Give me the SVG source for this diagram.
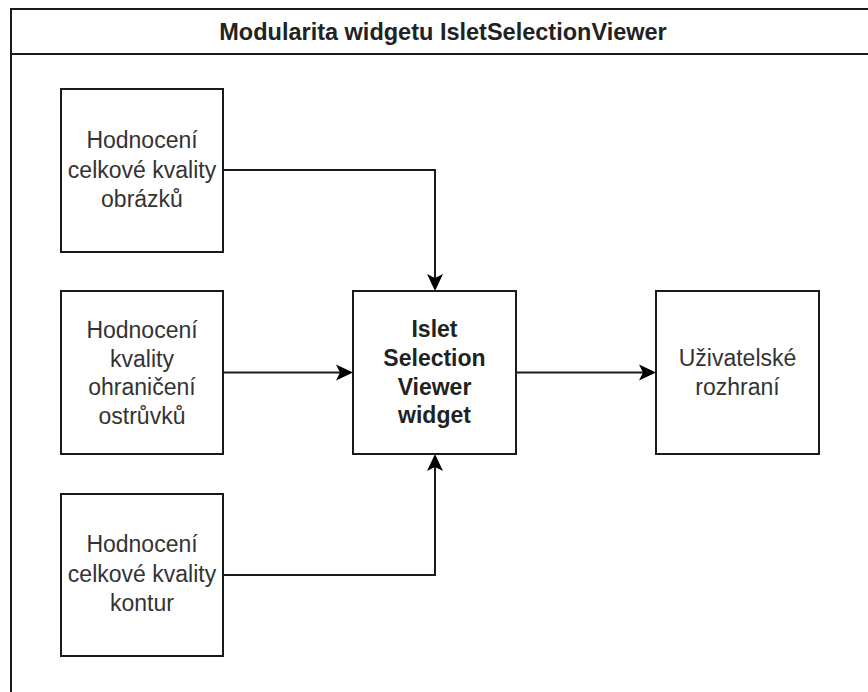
<svg xmlns="http://www.w3.org/2000/svg" width="868" height="692" viewBox="0 0 868 692">
  <style>
    .box { fill: #ffffff; stroke: #1a1a1a; stroke-width: 2; }
    .frame { fill: #ffffff; stroke: #1a1a1a; stroke-width: 2; }
    .lbl { font-family: "Liberation Sans", Arial, sans-serif; font-size: 23px; fill: #333333; text-anchor: middle; }
    .bold { font-weight: bold; fill: #222222; }
    .title { font-family: "Liberation Sans", Arial, sans-serif; font-size: 23.5px; font-weight: bold; fill: #222222; text-anchor: middle; }
    .conn { fill: none; stroke: #1a1a1a; stroke-width: 2; marker-end: url(#arrow); }
  </style>
  <defs>
    <marker id="arrow" markerUnits="userSpaceOnUse" markerWidth="18" markerHeight="18" refX="7" refY="8" orient="auto" viewBox="0 0 18 16">
      <path d="M0,0 L17,8 L0,16 L4,8 Z" fill="#000000" stroke="none"/>
    </marker>
  </defs>
  <rect width="868" height="692" fill="#ffffff"/>

  <g id="frame">
    <rect class="frame" x="11" y="9" width="864" height="700"/>
    <line x1="11" y1="54" x2="875" y2="54" stroke="#1a1a1a" stroke-width="2"/>
    <text class="title" x="443" y="40">Modularita widgetu IsletSelectionViewer</text>
  </g>

  <g id="connectors">
    <path class="conn" d="M223,170 H435 V281"/>
    <path class="conn" d="M223,372.5 H343"/>
    <path class="conn" d="M516,372.5 H646"/>
    <path class="conn" d="M223,575 H435 V464"/>
  </g>

  <g id="node-obrazky">
    <rect class="box" x="61" y="89" width="162" height="163"/>
    <text class="lbl" x="142" y="148">Hodnocení</text>
    <text class="lbl" x="142" y="177.5">celkové kvality</text>
    <text class="lbl" x="142" y="207">obrázků</text>
  </g>

  <g id="node-ohraniceni">
    <rect class="box" x="61" y="291" width="162" height="163"/>
    <text class="lbl" x="142" y="338">Hodnocení</text>
    <text class="lbl" x="142" y="366.5">kvality</text>
    <text class="lbl" x="142" y="395">ohraničení</text>
    <text class="lbl" x="142" y="423.5">ostrůvků</text>
  </g>

  <g id="node-kontur">
    <rect class="box" x="61" y="494" width="162" height="162"/>
    <text class="lbl" x="142" y="552">Hodnocení</text>
    <text class="lbl" x="142" y="581.5">celkové kvality</text>
    <text class="lbl" x="142" y="611">kontur</text>
  </g>

  <g id="node-widget">
    <rect class="box" x="353" y="291" width="163" height="163"/>
    <text class="lbl bold" x="434.5" y="337">Islet</text>
    <text class="lbl bold" x="434.5" y="366">Selection</text>
    <text class="lbl bold" x="434.5" y="394.5">Viewer</text>
    <text class="lbl bold" x="434.5" y="423">widget</text>
  </g>

  <g id="node-ui">
    <rect class="box" x="656" y="291" width="163" height="163"/>
    <text class="lbl" x="737.5" y="366">Uživatelské</text>
    <text class="lbl" x="737.5" y="395">rozhraní</text>
  </g>
</svg>
